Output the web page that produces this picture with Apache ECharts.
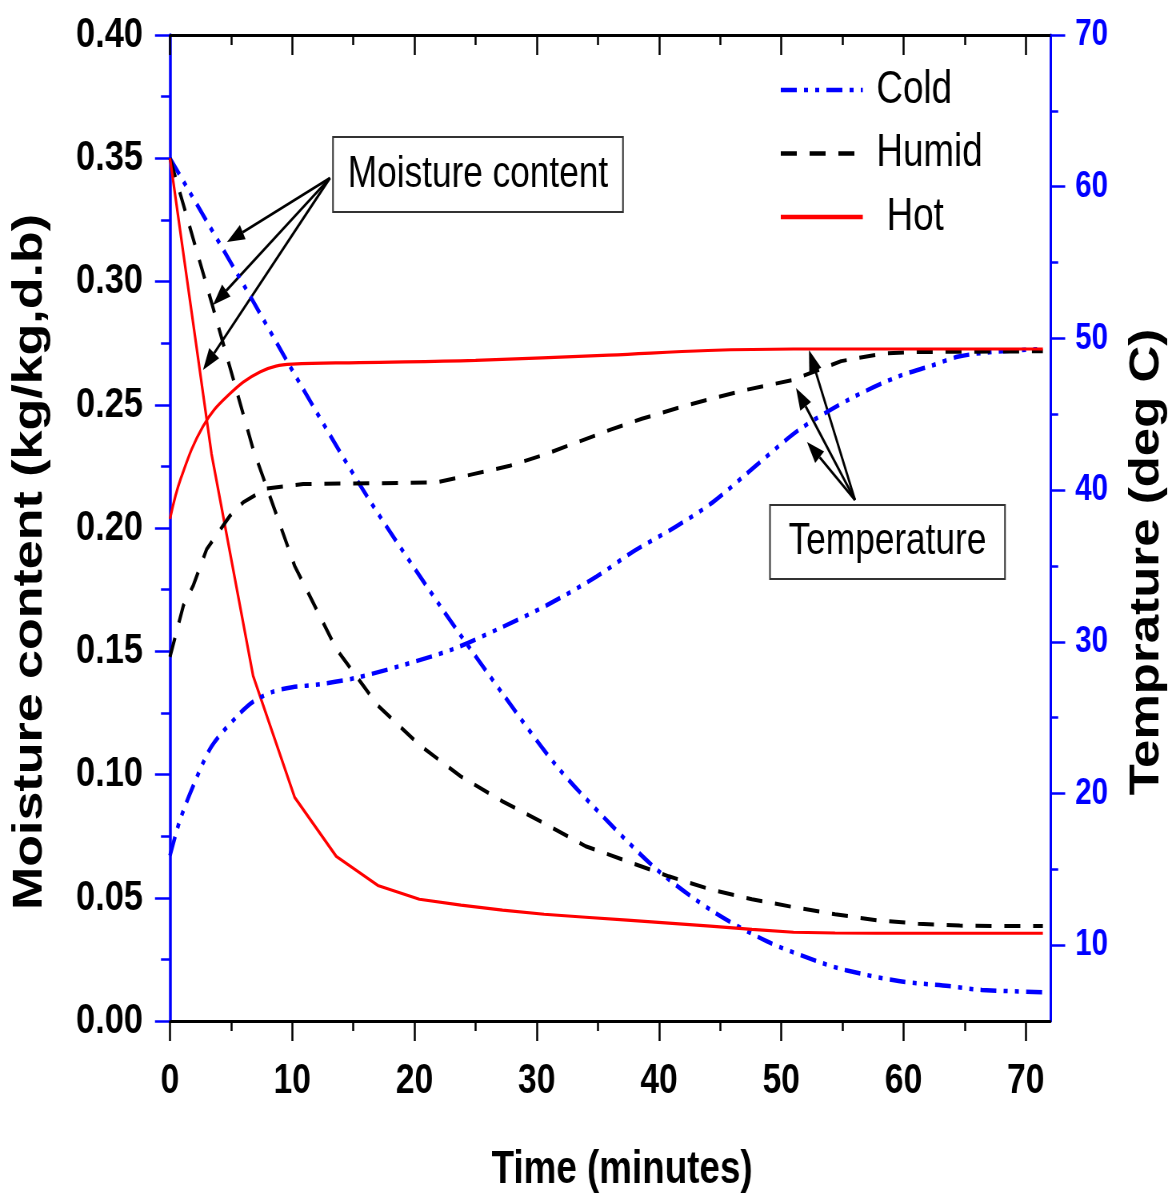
<!DOCTYPE html>
<html>
<head>
<meta charset="utf-8">
<title>Moisture content and temperature</title>
<script src="https://cdn.jsdelivr.net/npm/echarts@6/dist/echarts.min.js"></script>
<style>
  html, body { margin: 0; padding: 0; background: #fff; overflow: hidden; }
  /* the original figure is squeezed horizontally; draw wide and scale down */
  #chart { width: 1469px; height: 1198px; transform: scaleX(0.8); transform-origin: 0 0; }
</style>
</head>
<body>
<div id="chart"></div>
<script>
// tick positions
const xTicks = [0, 10, 20, 30, 40, 50, 60, 70]
const xMinorTicks = [5, 15, 25, 35, 45, 55, 65]
const rightTicks = [10, 20, 30, 40, 50, 60, 70]
const rightMinorTicks = [15, 25, 35, 45, 55, 65]

// sample times (minutes)
const times = [0, 3.4, 6.8, 10.2, 13.6, 17, 20.4, 23.8, 27.2, 30.6, 34, 37.4, 40.8, 44.2, 47.6, 51, 54.4, 57.8, 61.2, 64.6, 68, 71.4]

// moisture content (kg/kg, d.b)
const hotMoisture = [0.350, 0.230, 0.140, 0.0907, 0.0668, 0.0550, 0.0494, 0.0470, 0.0450, 0.0433, 0.0421, 0.0409, 0.0397, 0.0385, 0.0372, 0.0360, 0.0357, 0.0356, 0.0356, 0.0356, 0.0356, 0.0356]
const humidMoisture = [0.350, 0.2915, 0.232, 0.1846, 0.151, 0.128, 0.112, 0.0992, 0.0891, 0.0802, 0.0709, 0.0648, 0.0587, 0.0534, 0.0494, 0.0462, 0.0433, 0.0409, 0.0395, 0.0387, 0.0385, 0.0385]
const coldMoistureTimes = [0, 6.1, 10.9, 16.1, 22.1, 27.5, 31.6, 35.8, 40, 44.4, 48.8, 52.9, 55.3, 59.6, 63.7, 66.4, 71.4]
const coldMoisture = [0.350, 0.298, 0.2563, 0.213, 0.1684, 0.1308, 0.1036, 0.081, 0.0607, 0.0445, 0.0324, 0.0243, 0.0206, 0.0162, 0.0142, 0.0126, 0.0117]

// temperature (deg C)
const hotTempTimes = [0, 0.9, 2.7, 4.7, 7.4, 10, 15.5, 25, 35.9, 44, 51, 60, 71.4]
const hotTemp = [38.1, 40.8, 44.2, 46.2, 47.8, 48.3, 48.4, 48.55, 48.9, 49.2, 49.3, 49.3, 49.3]
const humidTempTimes = [0, 1.1, 1.9, 3.0, 4.9, 6.0, 7.9, 10.9, 16.6, 21.8, 24.8, 27.8, 30.5, 33.3, 36.1, 38.6, 41.7, 44.4, 47.1, 50.9, 54.9, 58.3, 61, 71.4]
const humidTemp = [29.0, 32.4, 33.7, 36.1, 38.3, 39.2, 40.1, 40.4, 40.45, 40.5, 41.05, 41.6, 42.3, 43.15, 44.0, 44.7, 45.45, 46.05, 46.6, 47.25, 48.5, 49.0, 49.1, 49.15]
const coldTempTimes = [0, 0.8, 1.9, 3.4, 5.5, 6.8, 8.4, 10.0, 12.3, 15.1, 18.8, 23.1, 27, 30.8, 34.9, 37.8, 41.4, 44.4, 48.2, 51.5, 55.6, 59.6, 62.3, 64.5, 67.2, 71.4]
const coldTemp = [15.9, 18.2, 20.5, 23.1, 25.1, 26.05, 26.7, 27.0, 27.2, 27.6, 28.4, 29.5, 30.9, 32.4, 34.3, 35.9, 37.6, 39.2, 41.8, 44.0, 46.0, 47.5, 48.2, 48.8, 49.1, 49.3]

const SX = 0.8 // horizontal squeeze applied by CSS
const X = (px) => px / SX // picture x -> chart x

const SANS = "'Liberation Sans', Arial, sans-serif"
const BLUE = '#0000ff'
const RED = '#ff0000'
const BLACK = '#000000'

const coldLine = { color: BLUE, width: 4.5, type: [20, 9, 5, 9, 5, 9] }
const humidLine = { color: BLACK, width: 4, type: [20, 16] }
const hotLine = { color: RED, width: 3.2, type: 'solid' }

function pairs(ts, vs) {
  return ts.map((t, i) => [t, vs[i]])
}

// arrow with filled head, coordinates in picture pixels
function arrow(x1, y1, x2, y2) {
  x1 = X(x1)
  x2 = X(x2)
  const ang = Math.atan2(y2 - y1, x2 - x1)
  const len = 22
  const half = 8
  const bx = x2 - len * Math.cos(ang)
  const by = y2 - len * Math.sin(ang)
  const nx = -Math.sin(ang) * half
  const ny = Math.cos(ang) * half
  return [
    { type: 'line', silent: true, shape: { x1, y1, x2: bx, y2: by }, style: { stroke: BLACK, lineWidth: 2.8 } },
    { type: 'polygon', silent: true, shape: { points: [[x2, y2], [bx + nx, by + ny], [bx - nx, by - ny]] }, style: { fill: BLACK } },
  ]
}

function labelBox(x, y, w, h, text) {
  return [
    { type: 'rect', silent: true, shape: { x: X(x), y, width: X(w), height: h }, style: { fill: '#fff', stroke: '#333', lineWidth: 2 } },
    {
      type: 'text', silent: true, x: X(x + w / 2), y: y + h / 2,
      style: { text, fontFamily: SANS, fontSize: 44, fill: BLACK, align: 'center', verticalAlign: 'middle' },
    },
  ]
}

function lineSeries(name, data, yAxisIndex, lineStyle, smooth) {
  return {
    name,
    type: 'line',
    xAxisIndex: 0,
    yAxisIndex,
    data,
    smooth: smooth || false,
    symbol: 'none',
    showSymbol: false,
    lineStyle,
    itemStyle: { color: lineStyle.color },
  }
}

const chart = echarts.init(document.getElementById('chart'))

const hiddenAxis = {
  axisLine: { show: false, onZero: false },
  axisLabel: { show: false },
  splitLine: { show: false },
}

chart.setOption({
  animation: false,
  backgroundColor: '#fff',
  grid: { left: X(170), right: X(125), top: 35, bottom: 175, containLabel: false },
  legend: {
    orient: 'vertical',
    left: X(775),
    top: 62,
    itemWidth: X(82),
    itemHeight: 2,
    itemGap: 17.5,
    itemStyle: { opacity: 0 },
    lineStyle: { width: 4.5 },
    data: ['Cold', 'Humid', 'Hot'],
    formatter: (name) => (name === 'Hot' ? ' ' + name : name),
    textStyle: { fontFamily: SANS, fontSize: 46, lineHeight: 46, color: BLACK, padding: [0, 0, 0, 12] },
  },
  xAxis: [
    {
      type: 'value', position: 'bottom', min: 0, max: 72,
      axisLine: { show: true, onZero: false, lineStyle: { color: BLACK, width: 3 } },
      axisTick: { show: true, customValues: xTicks, length: 20, lineStyle: { color: BLACK, width: 2.5 } },
      axisLabel: { customValues: xTicks, margin: 39, fontSize: 42, fontWeight: 'bold', fontFamily: SANS, color: BLACK },
      splitLine: { show: false },
      name: 'Time (minutes)',
      nameLocation: 'middle',
      nameGap: 126,
      nameTextStyle: { fontSize: 46, fontWeight: 'bold', fontFamily: SANS, color: BLACK, padding: [0, 0, 0, 30] },
    },
    {
      type: 'value', position: 'bottom', min: 0, max: 72, ...hiddenAxis,
      axisTick: { show: true, customValues: xMinorTicks, length: 10, lineStyle: { color: BLACK, width: 2.5 } },
    },
    {
      type: 'value', position: 'top', min: 0, max: 72,
      axisLine: { show: true, onZero: false, lineStyle: { color: BLACK, width: 3 } },
      axisTick: { show: true, inside: true, customValues: xTicks, length: 20, lineStyle: { color: BLACK, width: 2.5 } },
      axisLabel: { show: false },
      splitLine: { show: false },
    },
    {
      type: 'value', position: 'top', min: 0, max: 72, ...hiddenAxis,
      axisTick: { show: true, inside: true, customValues: xMinorTicks, length: 10, lineStyle: { color: BLACK, width: 2.5 } },
    },
  ],
  yAxis: [
    {
      type: 'value', position: 'left', min: 0, max: 0.4, interval: 0.05,
      axisLine: { show: true, onZero: false, lineStyle: { color: BLUE, width: 3.5 } },
      axisTick: { show: true, length: X(15), lineStyle: { color: BLUE, width: 2.5 } },
      minorTick: { show: true, splitNumber: 2, length: X(9), lineStyle: { color: BLUE, width: 2.5 } },
      axisLabel: {
        margin: X(27), fontSize: 43, fontWeight: 'bold', fontFamily: SANS, color: BLACK,
        formatter: (v) => v.toFixed(2),
      },
      splitLine: { show: false },
      minorSplitLine: { show: false },
    },
    {
      type: 'value', position: 'right', min: 5, max: 70,
      axisLine: { show: true, onZero: false, lineStyle: { color: BLUE, width: 3 } },
      axisTick: { show: true, customValues: rightTicks, length: X(15), lineStyle: { color: BLUE, width: 2.5 } },
      axisLabel: { customValues: rightTicks, margin: X(25), fontSize: 37, fontWeight: 'bold', fontFamily: SANS, color: BLUE },
      splitLine: { show: false },
    },
    {
      type: 'value', position: 'right', min: 5, max: 70, ...hiddenAxis,
      axisTick: { show: true, customValues: rightMinorTicks, length: X(8), lineStyle: { color: BLUE, width: 2.5 } },
    },
  ],
  series: [
    lineSeries('Cold', pairs(coldMoistureTimes, coldMoisture), 0, coldLine, 0.3),
    lineSeries('Humid', pairs(times, humidMoisture), 0, humidLine),
    lineSeries('Hot', pairs(times, hotMoisture), 0, hotLine),
    lineSeries('Cold', pairs(coldTempTimes, coldTemp), 1, coldLine, 0.3),
    lineSeries('Humid', pairs(humidTempTimes, humidTemp), 1, humidLine),
    lineSeries('Hot', pairs(hotTempTimes, hotTemp), 1, hotLine, 0.4),
  ],
  graphic: [
    ...labelBox(333, 137, 290, 75, 'Moisture content'),
    ...arrow(330, 178, 227, 242),
    ...arrow(330, 178, 213, 305),
    ...arrow(330, 178, 203, 370),
    ...labelBox(770, 505, 235, 74, 'Temperature'),
    ...arrow(855, 500, 809, 350),
    ...arrow(855, 500, 796, 388),
    ...arrow(855, 500, 807, 442),
    {
      type: 'text', silent: true, x: X(30), y: 562, rotation: Math.PI / 2,
      style: { text: 'Moisture content (kg/kg,d.b)', fontFamily: SANS, fontSize: 52, fontWeight: 'bold', fill: BLACK, align: 'center', verticalAlign: 'middle' },
    },
    {
      type: 'text', silent: true, x: X(1147), y: 562, rotation: Math.PI / 2,
      style: { text: 'Temprature (deg C)', fontFamily: SANS, fontSize: 51, fontWeight: 'bold', fill: BLACK, align: 'center', verticalAlign: 'middle' },
    },
  ],
})
</script>
</body>
</html>
